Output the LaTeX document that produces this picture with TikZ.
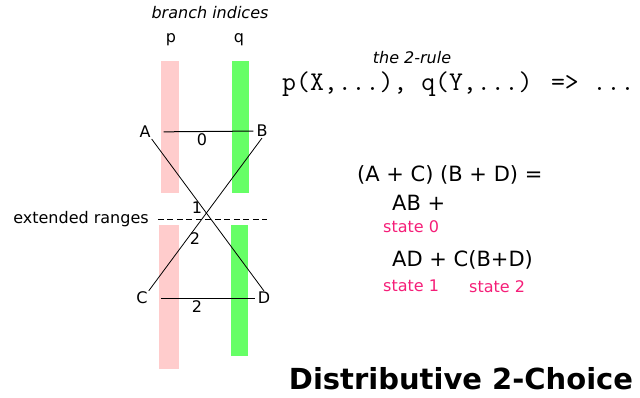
\documentclass[tikz,border=0pt]{standalone}
\usepackage{fontspec}
\setmainfont{DejaVu Sans}
\usepackage{xcolor}
\usetikzlibrary{positioning, arrows.meta}
\definecolor{barpink}{RGB}{255,204,204}
\definecolor{bargreen}{RGB}{102,255,102}
\definecolor{statepink}{RGB}{245,30,120}

\begin{document}
\begin{tikzpicture}[
    x=1pt, y=-1pt,
    txt/.style={font=\fontsize{16}{19}\selectfont, inner sep=1pt},
    note/.style={font=\fontsize{16}{19}\selectfont\itshape, inner sep=1pt},
    eqn/.style={font=\fontsize{21}{25}\selectfont, inner sep=0pt, anchor=west},
    statelabel/.style={font=\fontsize{16}{19}\selectfont, text=statepink, inner sep=0pt, anchor=west},
    hline/.style={line width=1pt, shorten <=12pt, shorten >=2pt},
    xline/.style={line width=0.8pt},
    rangeline/.style={line width=0.8pt, dash pattern=on 6pt off 3.5pt, shorten <=8pt}
]
\useasboundingbox (0,0) rectangle (640,398);

% Полосы ветвей p и q (верхняя и нижняя части)
\foreach \xa/\xb/\yb/\c in {161/179/193/barpink, 232/249/193/bargreen} {
    \fill[\c] (\xa,61) rectangle (\xb,\yb);
}
\fill[barpink] (159,225) rectangle (179,369);
\fill[bargreen] (231,225) rectangle (248,356);

% Подписи над полосами
\node[note] (branch) at (210,13) {branch indices};
\node[txt] (p) at (171,40) {p};
\node[txt] (q) at (239,40) {q};

% Вершины
\node[txt] (A) at (145,132) {A};
\node[txt] (B) at (262,131) {B};
\node[txt] (C) at (142,298) {C};
\node[txt] (D) at (264,298) {D};

% Связи
\draw[hline] (A) -- (B);
\draw[hline] (C) -- (D);
\draw[xline] (A.south east) -- (D.north);
\draw[xline] (B.south) -- (C.north east);

% Номера состояний
\node[txt] (s0) at (202,140) {0};
\node[txt] (s1) at (197,208) {1};
\node[txt] (s2a) at (195,239) {2};
\node[txt] (s2b) at (197,307) {2};

% Расширенные диапазоны
\node[txt] (ext) at (81,219) {extended ranges};
\coordinate (extend) at (267,219);
\draw[rangeline] (ext.east) -- (extend);

% Правило
\node[note] (rule) at (412,58) {the 2-rule};
\node[font=\fontsize{27}{32}\ttfamily\selectfont, inner sep=0pt, anchor=west] (code) at (282,84) {p(X,...), q(Y,...) => ...};

% Разложение
\node[eqn] (prod) at (357,175) {(A + C) (B + D) =};
\node[eqn] (ab) at (392,203) {AB +};
\node[statelabel] (st0) at (383,227) {state 0};
\node[eqn] (ad) at (392,260) {AD + C(B+D)};
\node[statelabel] (st1) at (383,286) {state 1};
\node[statelabel] (st2) at (469,287) {state 2};

% Заголовок
\node[font=\fontsize{29}{34}\bfseries\selectfont, inner sep=0pt] (title) at (461,379) {Distributive 2-Choice};

\end{tikzpicture}
\end{document}
